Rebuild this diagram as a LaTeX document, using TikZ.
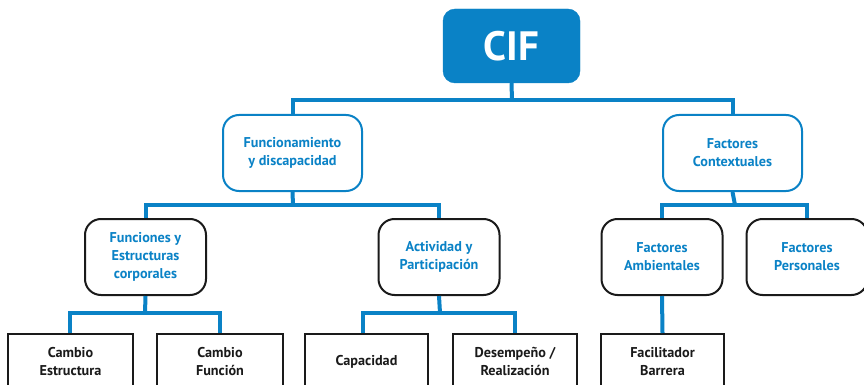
\documentclass[tikz,border=0pt]{standalone}
\usepackage{fontspec}
\setmainfont{PT Sans}
\definecolor{cifblue}{HTML}{0A82C6}
\definecolor{boxblack}{HTML}{1A1A1A}
\begin{document}
\begin{tikzpicture}[x=1pt,y=-1pt,
  conn/.style={draw=cifblue,line width=4pt,line join=miter},
  labelfont/.style={font=\fontsize{14.2}{18}\selectfont\bfseries},
  rootbox/.style={fill=cifblue,draw=cifblue,rounded corners=12pt,
    minimum width=137pt,minimum height=74pt,text=white,
    font=\fontsize{41}{44}\selectfont\bfseries},
  bluebox/.style={labelfont,draw=cifblue,fill=white,line width=2pt,rounded corners=16pt,
    minimum width=139pt,minimum height=76pt,align=center,text=cifblue},
  darkbox/.style={labelfont,draw=boxblack,fill=white,line width=2pt,rounded corners=16pt,
    minimum width=121pt,minimum height=76pt,align=center,text=cifblue},
  leafbox/.style={labelfont,draw=boxblack,fill=white,line width=2pt,
    minimum width=124pt,minimum height=55pt,align=center,text=boxblack},
]
\clip (0,0) rectangle (864,385);
\fill[white] (0,0) rectangle (864,385);

% junction points of the connector buses
\coordinate (j1) at (512,100);
\coordinate (j2) at (293,205);
\coordinate (j3) at (735,205);
\coordinate (j4) at (145,313);
\coordinate (j5) at (440,313);

% level 0
\node[rootbox] (cif) at (511.5,46) {CIF};

% level 1
\node[bluebox] (fun) at (292.5,153) {Funcionamiento\\y discapacidad};
\node[bluebox] (ctx) at (732.5,153) {Factores\\Contextuales};

% level 2
\node[darkbox] (fest) at (145.5,257) {Funciones y\\Estructuras\\corporales};
\node[darkbox] (act) at (439,257) {Actividad y\\Participación};
\node[darkbox] (amb) at (662,257) {Factores\\Ambientales};
\node[darkbox] (per) at (807,257) {Factores\\Personales};

% level 3
\node[leafbox,minimum width=125pt] (cest) at (70.5,361.5) {Cambio\\Estructura};
\node[leafbox,minimum width=126pt] (cfun) at (220,361.5) {Cambio\\Función};
\node[leafbox,minimum width=123pt] (cap) at (366.5,361.5) {Capacidad};
\node[leafbox,minimum width=124pt] (des) at (515,361.5) {Desempeño /\\Realización};
\node[leafbox,minimum width=123pt] (fac) at (662.5,361.5) {Facilitador\\Barrera};

% connectors
\draw[conn] (cif.south) -- (j1);
\draw[conn] (fun.north) |- (j1) -| (ctx.north);
\draw[conn] (fun.south) -- (j2);
\draw[conn] (fest.north) |- (j2) -| (act.north);
\draw[conn] (ctx.south) -- (j3);
\draw[conn] (amb.north) |- (j3) -| (per.north);
\draw[conn] (fest.south) -- (j4);
\draw[conn] (cest.north -| 70,0) |- (j4) -| (cfun.north);
\draw[conn] (act.south) -- (j5);
\draw[conn] (cap.north -| 363,0) |- (j5) -| (des.north);
\draw[conn] (amb.south) -- (fac.north);
\end{tikzpicture}
\end{document}
